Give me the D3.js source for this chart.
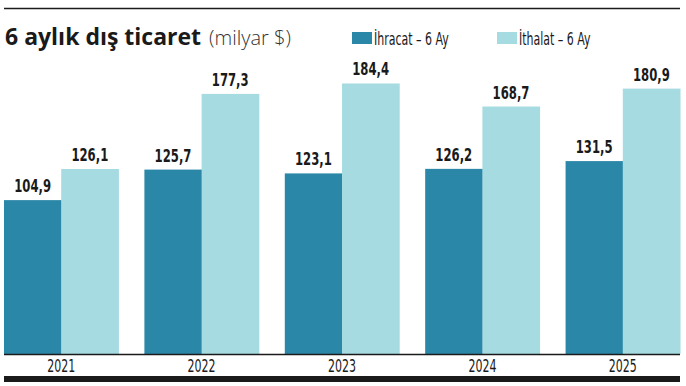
<!DOCTYPE html>
<html>
<head>
<meta charset="utf-8">
<script src="https://cdn.jsdelivr.net/npm/d3@7"></script>
<style>
  body { margin: 0; background: #fff; }
  .cond { font-family: "DejaVu Sans Condensed", "DejaVu Sans", sans-serif; }
</style>
</head>
<body>
<div id="chart"></div>
<script>
// data
var years = ["2021", "2022", "2023", "2024", "2025"];
var ihracat = [104.9, 125.7, 123.1, 126.2, 131.5];
var ithalat = [126.1, 177.3, 184.4, 168.7, 180.9];
var seriesNames = ["İhracat – 6 Ay", "İthalat – 6 Ay"];
var colors = ["#2b87a7", "#a6dbe1"];

var width = 686, height = 386;

var svg = d3.select("#chart").append("svg")
    .attr("width", width)
    .attr("height", height);

// squeezed text, the original uses a narrow DIN-like face
function narrow(parent, x, y, txt, size, sx, anchor, weight) {
  return parent.append("text")
      .attr("class", "cond")
      .attr("transform", "translate(" + x + "," + y + ") scale(" + sx + ",1)")
      .attr("text-anchor", anchor || "start")
      .style("font-size", size + "px")
      .style("font-weight", weight || "normal")
      .style("fill", "#1a1a1a")
      .text(txt);
}

// top rule
svg.append("line")
    .attr("x1", 4).attr("x2", 680)
    .attr("y1", 8.5).attr("y2", 8.5)
    .style("stroke", "#1a1a1a")
    .style("stroke-width", 1.5);

// title
var title = svg.append("text")
    .attr("x", 5)
    .attr("y", 45)
    .style("font-family", "'Open Sans', sans-serif")
    .style("font-size", "23px")
    .style("fill", "#1a1a1a");
title.append("tspan").style("font-weight", "bold").text("6 aylık dış ticaret");
title.append("tspan").attr("dx", 8).style("font-weight", 300).style("font-size", "20px")
    .style("fill", "#333").text("(milyar $)");

// legend
var legendX = [352, 497];
seriesNames.forEach(function(name, i) {
  svg.append("rect")
      .attr("x", legendX[i]).attr("y", 32)
      .attr("width", 20).attr("height", 12)
      .style("fill", colors[i]);
  narrow(svg, legendX[i] + 22, 45, name, 17, 0.72);
});

// scales
var x0 = d3.scaleBand()
    .domain(years)
    .range([4, 680])
    .paddingInner(0.185)
    .paddingOuter(0);

var x1 = d3.scaleBand()
    .domain([0, 1])
    .range([0, x0.bandwidth()]);

var y = d3.scaleLinear()
    .domain([0, 200])
    .range([354, 60.6]);

var groups = svg.selectAll("g.year")
    .data(years)
    .enter().append("g")
    .attr("class", "year")
    .attr("transform", function(d) { return "translate(" + x0(d) + ",0)"; });

groups.selectAll("rect")
    .data(function(d, i) { return [ihracat[i], ithalat[i]]; })
    .enter().append("rect")
    .attr("x", function(d, j) { return x1(j); })
    .attr("y", function(d) { return y(d); })
    .attr("width", x1.bandwidth() + 0.5)
    .attr("height", function(d) { return y(0) - y(d); })
    .style("fill", function(d, j) { return colors[j]; });

groups.each(function(yr, i) {
  var g = d3.select(this);
  [ihracat[i], ithalat[i]].forEach(function(v, j) {
    narrow(g, x1(j) + x1.bandwidth() / 2, y(v) - 8,
        d3.format(".1f")(v).replace(".", ","), 18, 0.72, "middle", "bold");
  });
});

// x axis
var xAxis = svg.append("g")
    .attr("transform", "translate(0,354)")
    .call(d3.axisBottom(x0).tickSize(0).tickFormat(""));
xAxis.select(".domain")
    .attr("d", "M4,0.5H680")
    .style("stroke", "#1a1a1a")
    .style("stroke-width", 1.5);
years.forEach(function(yr) {
  narrow(svg, x0(yr) + x0.bandwidth() / 2, 372, yr, 18, 0.68, "middle");
});

// bottom bar
svg.append("rect")
    .attr("x", 4).attr("y", 376)
    .attr("width", 676).attr("height", 6)
    .style("fill", "#1a1a1a");
</script>
</body>
</html>
